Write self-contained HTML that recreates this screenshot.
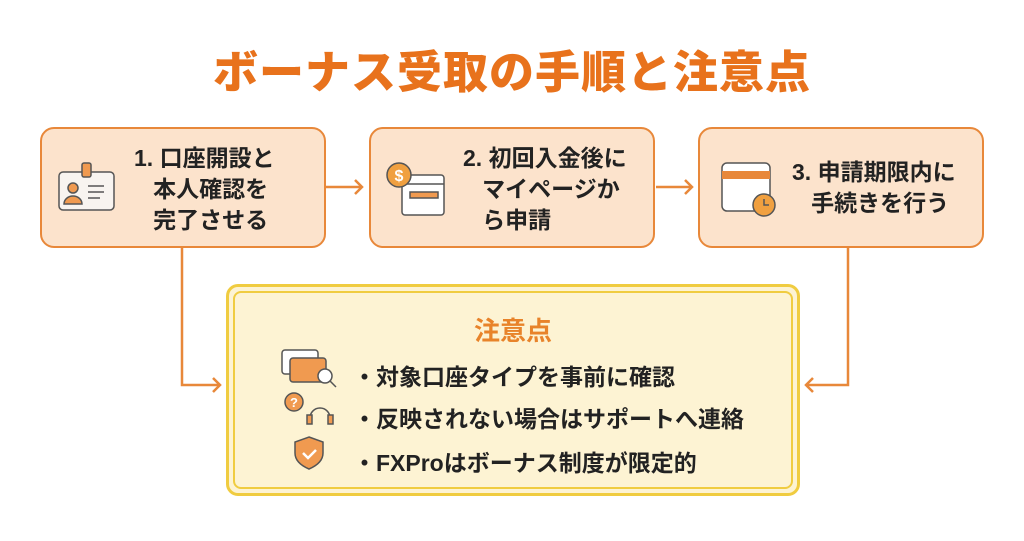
<!DOCTYPE html><html><head><meta charset="utf-8"><style>
body{margin:0;width:1024px;height:541px;background:#fff;font-family:"Liberation Sans","Noto Sans CJK JP",sans-serif;position:relative;overflow:hidden}
.t{position:absolute;left:0;width:1024px;top:36px;text-align:center;font-size:45px;font-weight:900;color:#e8721c;letter-spacing:1px}
.b{position:absolute;top:127px;width:286px;height:121px;background:#fce3cc;border:2.5px solid #e8883a;border-radius:14px;box-sizing:border-box}
.b .tx{position:absolute;font-size:23px;font-weight:bold;color:#222;line-height:31px;white-space:nowrap}
.n{position:absolute;left:226px;top:284px;width:574px;height:212px;border:3px solid #f0cc40;border-radius:12px;background:#fdf3d3;box-sizing:border-box}
.n .in{position:absolute;inset:4px;border:2px solid #f0cc40;border-radius:8px}
.h{position:absolute;left:0;width:100%;top:24px;text-align:center;font-size:26px;font-weight:bold;color:#e8832a}
.li{position:absolute;left:124px;font-size:23px;font-weight:bold;color:#222;white-space:nowrap}
svg{position:absolute;left:0;top:0}
</style></head><body>
<div class="t">ボーナス受取の手順と注意点</div>
<div class="b" style="left:40px"><div class="tx" style="left:92px;top:14px">1. 口座開設と<br>&nbsp;&nbsp;&nbsp;本人確認を<br>&nbsp;&nbsp;&nbsp;完了させる</div></div>
<div class="b" style="left:369px"><div class="tx" style="left:92px;top:14px">2. 初回入金後に<br>&nbsp;&nbsp;&nbsp;マイページか<br>&nbsp;&nbsp;&nbsp;ら申請</div></div>
<div class="b" style="left:698px"><div class="tx" style="left:92px;top:28px">3. 申請期限内に<br>&nbsp;&nbsp;&nbsp;手続きを行う</div></div>
<div class="n"><div class="in"></div><div class="h">注意点</div>
<div class="li" style="top:71px">・対象口座タイプを事前に確認</div>
<div class="li" style="top:113px">・反映されない場合はサポートへ連絡</div>
<div class="li" style="top:157px">・FXProはボーナス制度が限定的</div></div>
<svg width="1024" height="541" fill="none" stroke-width="2.5">
<g stroke="#e8883a">
<path d="M326 187H362M355 180l7 7-7 7"/><path d="M656 187H692M685 180l7 7-7 7"/>
<path d="M182 248V385H220M213 378l7 7-7 7"/><path d="M848 248V385H806M813 378l-7 7 7 7"/>
</g>
<g stroke="#555" stroke-width="1.5">
<rect x="59" y="172" width="55" height="38" rx="4" fill="#f8f4f0"/><rect x="82" y="163" width="9" height="14" rx="2" fill="#f09a50"/>
<circle cx="73" cy="188" r="5" fill="#f09a50"/><path d="M64 204a9 8 0 0 1 18 0z" fill="#f09a50"/><path d="M88 186h16M88 192h16M88 198h12"/>
<rect x="402" y="175" width="42" height="40" rx="3" fill="#fff"/><path d="M402 184h42" /><rect x="410" y="192" width="28" height="6" fill="#f09a50"/>
<circle cx="399" cy="175" r="12" fill="#f0a040"/>
<rect x="722" y="163" width="48" height="48" rx="5" fill="#fff"/><path d="M722 175h48" stroke="#e8883a" stroke-width="8"/>
<circle cx="764" cy="205" r="11" fill="#f0a040"/><path d="M764 199v6h5"/>
<rect x="282" y="350" width="36" height="24" rx="3" fill="#fff"/><rect x="290" y="358" width="36" height="24" rx="3" fill="#f09a50"/><circle cx="325" cy="376" r="7" fill="#fff"/><path d="M330 381l6 6"/>
<circle cx="294" cy="402" r="9" fill="#f09a50"/><path d="M310 418a10 10 0 0 1 20 0"/><rect x="307" y="415" width="5" height="9" fill="#f09a50"/><rect x="328" y="415" width="5" height="9" fill="#f09a50"/>
<path d="M309 437l14 5v11q0 10-14 16q-14-6-14-16v-11z" fill="#f09a50"/><path d="M303 453l5 5 8-8" stroke="#fff" stroke-width="2.5"/>
</g>
<text x="399" y="181" font-size="16" text-anchor="middle" fill="#fff" font-family="Liberation Sans" font-weight="bold">$</text>
<text x="294" y="407" font-size="13" text-anchor="middle" fill="#fff" font-family="Liberation Sans" font-weight="bold">?</text>
</svg>
</body></html>
